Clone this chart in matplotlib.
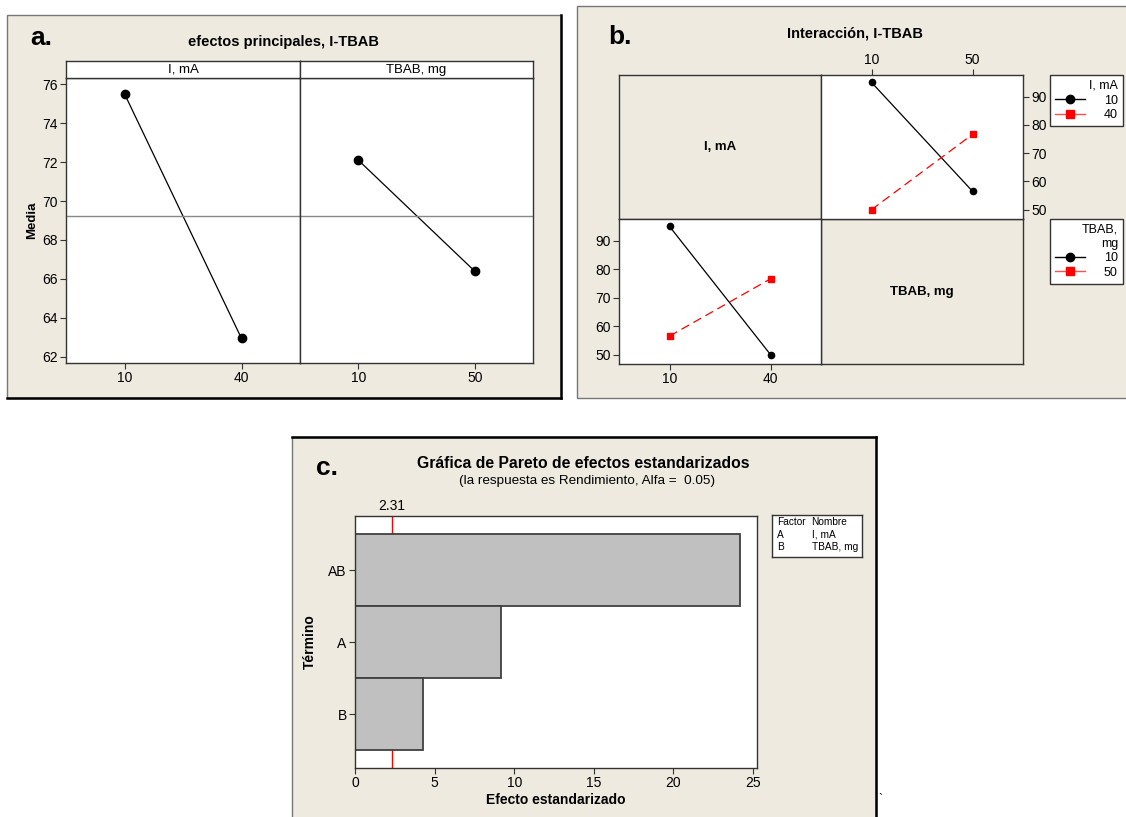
import numpy as np
import matplotlib.pyplot as plt
import matplotlib.patches as patches
from matplotlib.lines import Line2D

plt.rcParams['font.family'] = ['Liberation Sans', 'DejaVu Sans']
plt.rcParams['font.size'] = 10

# main effects (panel a)
levels_I = ['10', '40']
levels_TBAB = ['10', '50']
mean_I = [75.5, 62.95]
mean_TBAB = [72.1, 66.4]

# interaction cell means: rows = I level, columns = TBAB level
cell_means = np.array([[95.0, 56.5],
                       [50.0, 76.6]])

# pareto of standardized effects (panel c)
terms = ['AB', 'A', 'B']
effects = [24.2, 9.2, 4.25]
t_crit = 2.31

W, H = 1126, 817
beige = '#EEEAE0'
edge = '#333333'

fig = plt.figure(figsize=(W / 100, H / 100), dpi=100)
fig.patch.set_facecolor('white')


def box(l, t, r, b):
    return [l / W, 1 - b / H, (r - l) / W, (b - t) / H]


def panel(l, t, r, b):
    rect = patches.Rectangle((l / W, 1 - b / H), (r - l) / W, (b - t) / H,
                             transform=fig.transFigure, facecolor=beige,
                             edgecolor='#777777', linewidth=1, zorder=-2)
    fig.add_artist(rect)


def fline(x0, y0, x1, y1, lw=1.8, color='black'):
    fig.add_artist(Line2D([x0 / W, x1 / W], [1 - y0 / H, 1 - y1 / H],
                          transform=fig.transFigure, color=color, lw=lw, zorder=-1))


def style(ax):
    for s in ax.spines.values():
        s.set_color(edge)
        s.set_linewidth(1)
    ax.tick_params(direction='out', length=4, width=0.8, color=edge, labelsize=10, pad=2)


# ---------------- panel a ----------------
panel(7, 15, 561, 398)
fline(7, 398, 561, 398)
fline(561, 15, 561, 398)
fig.text(30 / W, 1 - 38 / H, 'a.', fontsize=19, fontweight='bold', va='center')
fig.text(283 / W, 1 - 42 / H, 'efectos principales, I-TBAB', fontsize=10.5,
         fontweight='bold', ha='center', va='center')

grand = np.mean(mean_I)
ylim_a = (61.69, 76.31)
for i, (name, labels, vals) in enumerate([('I, mA', levels_I, mean_I),
                                           ('TBAB, mg', levels_TBAB, mean_TBAB)]):
    l, r = (66, 300) if i == 0 else (300, 533)
    ax = fig.add_axes(box(l, 78, r, 363))
    style(ax)
    ax.plot(range(len(vals)), vals, color='black', lw=0.9, marker='o', ms=6)
    ax.axhline(grand, color='#888888', lw=1)
    ax.set_xlim(-0.5, 1.5)
    ax.set_ylim(*ylim_a)
    ax.set_xticks(range(len(labels)))
    ax.set_xticklabels(labels)
    if i == 0:
        ax.set_yticks(np.arange(62, 77, 2))
        ax.set_ylabel('Media', fontweight='bold', fontsize=9.5, labelpad=3)
    else:
        ax.set_yticks([])
    sax = fig.add_axes(box(l, 61, r, 78))
    style(sax)
    sax.set_xticks([])
    sax.set_yticks([])
    sax.text(0.5, 0.5, name, ha='center', va='center', fontsize=9.5, transform=sax.transAxes)

# ---------------- panel b ----------------
panel(577, 6, 1130, 398)
fig.text(608 / W, 1 - 37 / H, 'b.', fontsize=19, fontweight='bold', va='center')
fig.text(855 / W, 1 - 33 / H, 'Interacción, I-TBAB', fontsize=10.5,
         fontweight='bold', ha='center', va='center')

ylim_b = (46.7, 97.6)
xs = [619, 821, 1023]
ys = [75, 219, 364]

# diagonal label cells
for (c, rr), text in [((0, 0), 'I, mA'), ((1, 1), 'TBAB, mg')]:
    ax = fig.add_axes(box(xs[c], ys[rr], xs[c + 1], ys[rr + 1]))
    style(ax)
    ax.set_facecolor(beige)
    ax.set_xticks([])
    ax.set_yticks([])
    ax.text(0.5, 0.5, text, ha='center', va='center', fontweight='bold',
            fontsize=9.5, transform=ax.transAxes)

line_styles = [dict(color='black', ls='-', marker='o', ms=4.5, lw=0.9),
               dict(color='red', ls=(0, (7, 4)), marker='s', ms=5, lw=0.9)]

# top right: x = TBAB, one line per I level
ax = fig.add_axes(box(xs[1], ys[0], xs[2], ys[1]))
style(ax)
for k in range(2):
    ax.plot(range(2), cell_means[k, :], **line_styles[k])
ax.set_xlim(-0.5, 1.5)
ax.set_ylim(*ylim_b)
ax.set_xticks(range(2))
ax.set_xticklabels(levels_TBAB)
ax.set_yticks([50, 60, 70, 80, 90])
ax.xaxis.tick_top()
ax.yaxis.tick_right()

# bottom left: x = I, one line per TBAB level
ax = fig.add_axes(box(xs[0], ys[1], xs[1], ys[2]))
style(ax)
for k in range(2):
    ax.plot(range(2), cell_means[:, k], **line_styles[k])
ax.set_xlim(-0.5, 1.5)
ax.set_ylim(*ylim_b)
ax.set_xticks(range(2))
ax.set_xticklabels(levels_I)
ax.set_yticks([50, 60, 70, 80, 90])

handles = [Line2D([], [], color='black', lw=1, marker='o', ms=6),
           Line2D([], [], color='#ff5050', lw=1, marker='s', ms=6, markerfacecolor='red',
                  markeredgecolor='red')]
for top, title, labels in [(75, 'I, mA', levels_I), (219, 'TBAB,\nmg', levels_TBAB)]:
    leg = fig.legend(handles, labels, title=title, loc='upper right',
                     bbox_to_anchor=(1123 / W, 1 - top / H), fontsize=9,
                     title_fontsize=9, alignment='right', fancybox=False,
                     framealpha=1, edgecolor=edge, handlelength=2.4,
                     handletextpad=1.5, borderpad=0.4, labelspacing=0.2,
                     borderaxespad=0)
    leg.get_frame().set_linewidth(1)
    leg.get_title().set_multialignment('right')
    for t in leg.get_texts():
        t.set_ha('right')

# ---------------- panel c ----------------
panel(292, 437, 876, 830)
fline(292, 437, 876, 437)
fline(876, 437, 876, 817)
fig.text(316 / W, 1 - 468 / H, 'c.', fontsize=19, fontweight='bold', va='center')
fig.text(583 / W, 1 - 464 / H, 'Gráfica de Pareto de efectos estandarizados',
         fontsize=11.3, fontweight='bold', ha='center', va='center')
fig.text(587 / W, 1 - 481 / H, '(la respuesta es Rendimiento, Alfa =  0.05)',
         fontsize=9.7, ha='center', va='center')

ax = fig.add_axes(box(355, 516, 757, 768))
style(ax)
ypos = np.arange(len(terms))
ax.axvline(t_crit, color='red', lw=1, zorder=1)
ax.barh(ypos, effects, height=1.0, color='#C0C0C0', edgecolor='#404040',
        linewidth=1.3, zorder=2)
ax.set_xlim(0, 25.25)
ax.set_ylim(2.75, -0.75)
ax.set_yticks(ypos)
ax.set_yticklabels(terms)
ax.set_xticks(np.arange(0, 26, 5))
ax.set_xlabel('Efecto estandarizado', fontweight='bold', fontsize=10, labelpad=2)
ax.set_ylabel('Término', fontweight='bold', fontsize=10, labelpad=8)
ax.text(t_crit, 1.01, f'{t_crit:.2f}', transform=ax.get_xaxis_transform(),
        ha='center', va='bottom', fontsize=10)

# factor key box
kax = fig.add_axes(box(772, 515, 862, 557))
style(kax)
kax.set_xticks([])
kax.set_yticks([])
rows = [('Factor', 'Nombre'), ('A', 'I, mA'), ('B', 'TBAB, mg')]
for i, (f, n) in enumerate(rows):
    yy = 0.83 - i * 0.3
    kax.text(0.06, yy, f, fontsize=7.3, va='center', transform=kax.transAxes)
    kax.text(0.44, yy, n, fontsize=7.3, va='center', transform=kax.transAxes)

fig.text(880 / W, 1 - 800 / H, '`', fontsize=9, ha='center', va='center')

fig.savefig('out.png', dpi=100)
